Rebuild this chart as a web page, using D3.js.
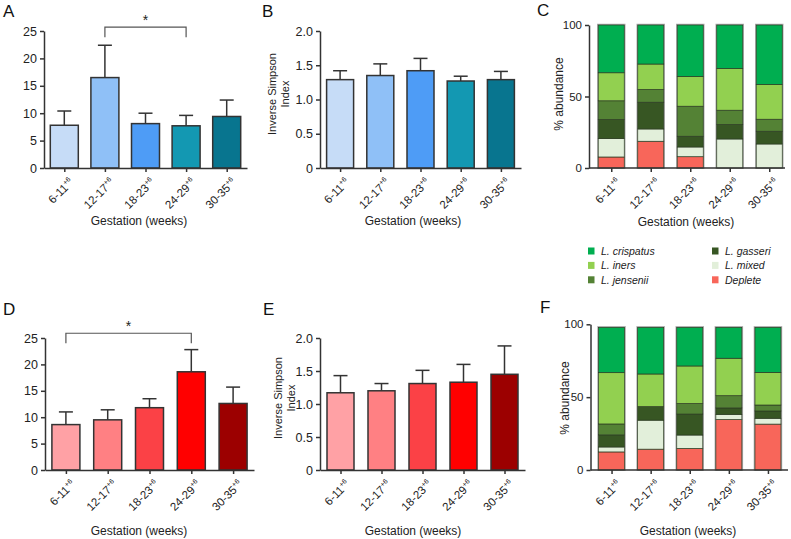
<!DOCTYPE html>
<html>
<head>
<meta charset="utf-8">
<script src="https://cdn.jsdelivr.net/npm/d3@7"></script>
<style>
  body { margin: 0; background: #fff; }
  svg { font-family: "Liberation Sans", Arial, sans-serif; }
</style>
</head>
<body>
<svg id="fig" width="791" height="539"></svg>
<script>
// gestation windows (weeks), each label carries a "+6" superscript
const categories = ["6-11", "12-17", "18-23", "24-29", "30-35"];
const catSup = "+6";

// panels A / D: bar heights and upper error
const countTop = [7.8, 16.5, 8.1, 7.7, 9.4];
const countTopErr = [2.6, 5.9, 1.9, 1.9, 3.0];
const countBottom = [8.6, 9.5, 11.8, 18.6, 12.6];
const countBottomErr = [2.4, 1.9, 1.7, 4.2, 3.1];

// panels B / E: inverse simpson
const simpsonTop = [1.29, 1.35, 1.42, 1.27, 1.29];
const simpsonTopErr = [0.13, 0.17, 0.18, 0.07, 0.12];
const simpsonBottom = [1.17, 1.20, 1.31, 1.33, 1.45];
const simpsonBottomErr = [0.26, 0.11, 0.20, 0.27, 0.43];

const blues = ["#c6dcf7", "#8fc0f7", "#4e9cf6", "#1398b2", "#08758f"];
const reds = ["#ffa1a5", "#ff8083", "#fb4146", "#ff0000", "#9c0000"];

// panels C / F: % abundance, stacked bottom -> top
const species = ["Deplete", "L. mixed", "L. gasseri", "L. jensenii", "L. iners", "L. crispatus"];
const speciesColors = ["#f8665a", "#e2efda", "#375623", "#548235", "#92d050", "#00ae50"];

const depleteC = [7.7, 18.7, 7.9, 0, 0];
const mixedC = [12.9, 8.6, 6.8, 20.3, 16.8];
const gasseriC = [13.3, 18.7, 7.5, 10.1, 8.9];
const jenseniiC = [13.1, 8.9, 21.0, 10.0, 8.4];
const inersC = [19.6, 17.8, 20.8, 29.2, 24.3];
const crispatusC = [33.4, 27.3, 36.0, 30.4, 41.6];

const depleteF = [12.4, 14.3, 14.8, 34.6, 31.5];
const mixedF = [3.4, 19.9, 9.2, 3.6, 4.0];
const gasseriF = [8.3, 9.3, 14.4, 4.4, 5.0];
const jenseniiF = [7.5, 0, 7.2, 8.4, 4.1];
const inersF = [35.2, 22.4, 25.8, 25.7, 22.4];
const crispatusF = [31.1, 32.0, 26.5, 21.2, 30.9];

// legend order (two columns)
const legendOrder = ["L. crispatus", "L. iners", "L. jensenii", "L. gasseri", "L. mixed", "Deplete"];

const svg = d3.select("#fig");
const axisColor = "#333";

function panelLetter(txt, x, y) {
  svg.append("text").attr("x", x).attr("y", y)
    .attr("font-size", 17).attr("fill", "#111").text(txt);
}

function tickLabels(g, x, y0) {
  const lab = g.append("g").selectAll("text").data(categories).join("text")
    .attr("transform", d => `translate(${x(d) + 10},${y0 + 15}) rotate(-45)`)
    .attr("text-anchor", "end")
    .attr("font-size", 11.5)
    .attr("fill", "#222");
  lab.append("tspan").text(d => d);
  lab.append("tspan").attr("dy", -4.5).attr("font-size", 7).text(catSup);
}

function xAxis(g, x, y0) {
  const ax = g.append("g")
    .attr("transform", `translate(0,${y0})`)
    .call(d3.axisBottom(x).tickSize(4).tickSizeOuter(0).tickFormat(""));
  ax.selectAll("path, line").attr("stroke", axisColor).attr("stroke-width", 1.5);
  tickLabels(g, x, y0);
}

function yAxis(g, y, x0, ticks, fmt, fs) {
  const ax = g.append("g")
    .attr("transform", `translate(${x0},0)`)
    .call(d3.axisLeft(y).tickValues(ticks).tickSize(4).tickSizeOuter(0).tickPadding(3).tickFormat(fmt));
  ax.selectAll("path, line").attr("stroke", axisColor).attr("stroke-width", 1.5);
  ax.selectAll("text").attr("font-size", fs).attr("fill", "#222")
    .attr("font-family", "'Liberation Sans', Arial, sans-serif");
}

function xTitle(cx, y) {
  svg.append("text").attr("x", cx).attr("y", y)
    .attr("text-anchor", "middle").attr("font-size", 12).attr("fill", "#222")
    .text("Gestation (weeks)");
}

function yTitle(lines, x, cy, fs) {
  const t = svg.append("text")
    .attr("transform", `translate(${x},${cy}) rotate(-90)`)
    .attr("text-anchor", "middle").attr("font-size", fs).attr("fill", "#222");
  lines.forEach((l, i) => {
    t.append("tspan").attr("x", 0).attr("dy", i === 0 ? 0 : "1.2em").text(l);
  });
}

function barPanel(cfg) {
  const g = svg.append("g");
  const x = d3.scalePoint().domain(categories).range([cfg.x0, cfg.x1]).padding(0.5);
  const y = d3.scaleLinear().domain([0, cfg.max]).range([cfg.y0, cfg.y1]);
  const bw = cfg.barW;
  const rows = categories.map((c, i) => ({c, v: cfg.values[i], e: cfg.errs[i], col: cfg.colors[i]}));

  // error bars (upper only)
  const eb = g.append("g").attr("stroke", axisColor).attr("stroke-width", 1.5);
  eb.selectAll(".v").data(rows).join("line")
    .attr("x1", d => x(d.c)).attr("x2", d => x(d.c))
    .attr("y1", d => y(d.v)).attr("y2", d => y(d.v + d.e));
  eb.selectAll(".cap").data(rows).join("line")
    .attr("x1", d => x(d.c) - 7).attr("x2", d => x(d.c) + 7)
    .attr("y1", d => y(d.v + d.e)).attr("y2", d => y(d.v + d.e));

  g.append("g").selectAll("rect").data(rows).join("rect")
    .attr("x", d => x(d.c) - bw / 2).attr("width", bw)
    .attr("y", d => y(d.v)).attr("height", d => y(0) - y(d.v))
    .attr("fill", d => d.col)
    .attr("stroke", axisColor).attr("stroke-width", 1.5);

  yAxis(g, y, cfg.x0, cfg.ticks, cfg.fmt, 12.5);
  xAxis(g, x, cfg.y0);

  if (cfg.sig) {
    const [a, b] = cfg.sig;
    const top = y(cfg.sigLevel), foot = y(cfg.sigLevel) + 10;
    g.append("path")
      .attr("d", `M${x(a)},${foot}V${top}H${x(b)}V${foot}`)
      .attr("fill", "none").attr("stroke", "#555").attr("stroke-width", 1.2);
    g.append("text").attr("x", (x(a) + x(b)) / 2).attr("y", top - 2)
      .attr("text-anchor", "middle").attr("font-size", 14).attr("fill", "#222").text("*");
  }
}

function stackPanel(cfg) {
  const g = svg.append("g");
  const x = d3.scalePoint().domain(categories).range([cfg.x0, cfg.x1]).padding(0.5);
  const y = d3.scaleLinear().domain([0, 100]).range([cfg.y0, cfg.y1]);
  const bw = cfg.barW;
  const table = categories.map((c, i) => {
    const o = {cat: c};
    species.forEach(s => { o[s] = cfg.series[s][i]; });
    return o;
  });
  const stacked = d3.stack().keys(species)(table);
  const color = d3.scaleOrdinal().domain(species).range(speciesColors);

  // light outline around each whole column
  g.append("g").selectAll("rect").data(table).join("rect")
    .attr("x", d => x(d.cat) - bw / 2 - 0.5).attr("width", bw + 1)
    .attr("y", d => y(d3.sum(species, s => d[s])) - 0.5)
    .attr("height", d => y(0) - y(d3.sum(species, s => d[s])) + 0.5)
    .attr("fill", "none").attr("stroke", "#aaa").attr("stroke-width", 1.5);

  g.append("g").selectAll("g").data(stacked).join("g")
    .attr("fill", d => color(d.key))
    .selectAll("rect").data(d => d.filter(p => p[1] - p[0] > 0)).join("rect")
    .attr("x", d => x(d.data.cat) - bw / 2).attr("width", bw)
    .attr("y", d => y(d[1])).attr("height", d => y(d[0]) - y(d[1]))
    .attr("stroke", "#2b3b22").attr("stroke-width", 0.7);

  yAxis(g, y, cfg.axisX, [0, 50, 100], d3.format("d"), 11.5);
  const ax = g.append("g").attr("transform", `translate(0,${cfg.y0})`)
    .call(d3.axisBottom(x).tickSize(4).tickSizeOuter(0).tickFormat(""));
  // x axis line starts at the y axis
  ax.select(".domain").attr("d", `M${cfg.axisX},0H${cfg.axisEnd}`);
  ax.selectAll("path, line").attr("stroke", axisColor).attr("stroke-width", 1.5);
  tickLabels(g, x, cfg.y0);
}

// ---- A
panelLetter("A", 3, 17);
barPanel({x0: 44, x1: 247, y0: 168, y1: 31, max: 25, barW: 28,
  values: countTop, errs: countTopErr, colors: blues,
  ticks: [0, 5, 10, 15, 20, 25], fmt: d3.format("d"),
  sig: ["12-17", "24-29"], sigLevel: 25.7});
xTitle(139, 225);

// ---- B
panelLetter("B", 262, 17);
barPanel({x0: 320, x1: 521, y0: 168, y1: 31, max: 2, barW: 27,
  values: simpsonTop, errs: simpsonTopErr, colors: blues,
  ticks: [0, 0.5, 1, 1.5, 2], fmt: d => d === 0 ? "0" : d3.format(".1f")(d)});
yTitle(["Inverse Simpson", "Index"], 276, 94, 11);
xTitle(413, 225);

// ---- C
panelLetter("C", 537, 16);
stackPanel({x0: 591.5, x1: 789, axisX: 589, axisEnd: 785, y0: 168, y1: 25, barW: 26,
  series: {"Deplete": depleteC, "L. mixed": mixedC, "L. gasseri": gasseriC,
           "L. jensenii": jenseniiC, "L. iners": inersC, "L. crispatus": crispatusC}});
yTitle(["% abundance"], 563, 94, 12);
xTitle(686, 226);

// legend
const leg = svg.append("g");
legendOrder.forEach((s, i) => {
  const col = Math.floor(i / 3), row = i % 3;
  const lx = col === 0 ? 588 : 712, ly = 251 + row * 14.4;
  leg.append("rect").attr("x", lx).attr("y", ly - 3.5).attr("width", 6.5).attr("height", 7)
    .attr("fill", speciesColors[species.indexOf(s)]);
  leg.append("text").attr("x", lx + 13).attr("y", ly + 4)
    .attr("font-size", 10.5).attr("font-style", "italic").attr("fill", "#222").text(s);
});

// ---- D
panelLetter("D", 3, 315);
barPanel({x0: 45, x1: 254, y0: 470, y1: 338, max: 25, barW: 28,
  values: countBottom, errs: countBottomErr, colors: reds,
  ticks: [0, 5, 10, 15, 20, 25], fmt: d3.format("d"),
  sig: ["6-11", "24-29"], sigLevel: 25.9});
xTitle(139, 535);

// ---- E
panelLetter("E", 263, 315);
barPanel({x0: 320, x1: 525, y0: 470, y1: 338, max: 2, barW: 27,
  values: simpsonBottom, errs: simpsonBottomErr, colors: reds,
  ticks: [0, 0.5, 1, 1.5, 2], fmt: d => d === 0 ? "0" : d3.format(".1f")(d)});
yTitle(["Inverse Simpson", "Index"], 282, 398, 11);
xTitle(413, 535);

// ---- F
panelLetter("F", 540, 313);
stackPanel({x0: 592, x1: 787.5, axisX: 590.5, axisEnd: 788, y0: 470, y1: 324.3, barW: 26,
  series: {"Deplete": depleteF, "L. mixed": mixedF, "L. gasseri": gasseriF,
           "L. jensenii": jenseniiF, "L. iners": inersF, "L. crispatus": crispatusF}});
yTitle(["% abundance"], 569, 398, 12);
xTitle(688, 535);
</script>
</body>
</html>
